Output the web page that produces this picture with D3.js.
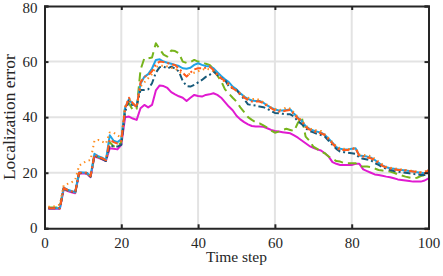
<!DOCTYPE html>
<html><head><meta charset="utf-8">
<script src="https://cdn.jsdelivr.net/npm/d3@7"></script>
<style>body{margin:0;background:#fff}svg{display:block}</style>
</head><body><svg id="c" width="443" height="276"></svg>
<script>
const steps = d3.range(1, 101);
const xTicks = [0, 20, 40, 60, 80, 100];
const yTicks = [0, 20, 40, 60, 80];
const xLabel = "Time step";
const yLabel = "Localization error";

const magenta = [7,7,7,7,14,13.4,13,12.6,19.6,19.8,19.6,18.4,25.8,25.4,24.8,24.2,28.8,28.6,28.4,30,
40,40.2,39.5,39,43.2,44.4,43.5,44.4,49.6,51.4,51.2,50.5,49,48.2,47.5,47,45.8,47,48,47.6,
47.4,48,48.2,48.6,48,47,45.4,43.8,42.5,40.5,39.2,38.2,37.4,36.8,36.6,36.6,36.5,36,35.4,35,
34.8,34.6,34.4,34.2,33.4,32.6,31.6,30.6,29.6,29,28.4,28,27,25.8,23.8,23.2,22.8,22.8,22.8,22.8,
23.2,23.2,21.2,20.6,20,19.4,19.2,18.9,18.6,18.4,18,17.6,17.4,17.2,17,16.8,16.8,16.8,17.2,18];

const green = [7.5,7.5,7.5,7.5,14.3,13.7,13.2,12.9,19.8,20,19.8,18.6,26.2,25.6,25,24.4,31,29.5,29.5,31,
44,45,42.5,43,57,61.2,61.2,61.5,66.6,64.5,62.5,61.8,64,63.8,63,60,59.5,59.8,60.6,60,
59.8,59.2,58.8,57.5,55,53,50,48.5,47,45.6,43.5,41.8,40,39,38.2,37.8,37,36.2,35.2,34.4,
34.8,35.4,35.8,35.4,35,38,40,33,31.5,29.4,28.6,27.6,27,25.8,25,24.2,24,23.5,23.4,23.4,
23.4,22.5,22.2,22.2,22,21.5,21,20.8,20.6,20.4,20,19.4,19,18.6,18.3,18,18.2,18.8,19.2,20];

const lightBlue = [7.2,7.2,7.2,7.2,14.6,13.9,13.4,13.1,20.2,20.1,20,18.9,26.8,26,25.4,24.6,33.5,31.5,31,32,
43.5,46.5,44.5,44,52,54.5,55.5,57.5,60.6,60.8,60,59.6,59.2,58.8,58.4,57.6,57.4,57.8,58.8,59.4,
58.8,58.4,58.2,57.6,56.2,54.8,53.6,52.6,51,50,48.6,47.4,46.6,46,45.8,45.8,45.2,44.2,43.4,42.8,
42.4,42.4,42.6,42.8,41.2,39.8,38.6,36.8,35.8,35.2,34.8,34.4,33.6,32.2,30.8,29.2,28.6,28.4,28.4,28.6,
28.8,26.2,26,25.8,25.4,24.6,23.6,22.6,22,21.6,21.4,21.2,21,20.8,20.6,20.4,20.2,20,19.8,20.8];

const teal = [7.2,7.2,7.2,7.2,14.4,13.7,13.2,12.8,19.8,19.9,19.8,18.6,26.3,25.6,25,24.2,30,29.4,29.4,30,
42,46,44,44,49.8,49.8,50,52.2,56,58,58.2,57.5,58.2,57.5,56.4,53,51.2,51,51.6,52.5,
53.4,54.5,55.2,56.4,55.2,54,53.4,51,50.4,49.8,48,46.5,44.6,44.4,44.2,43.8,43.6,43,42.2,41.5,
41.4,41.2,41,41,40.2,38.5,37.5,36,35,34.5,34,33.6,33,31.5,30,28.6,27.6,27.4,27.2,27,
26.8,25.5,25,24.8,24.5,23.5,22.8,22,21.4,21,20.6,20.4,20.2,20,19.8,19.6,19.4,19.2,19.2,20];

const orangeDot = [7.8,7.8,8,8.5,15.5,16,16.5,17.4,22.5,23.5,24.2,24.6,31.5,31.8,31.2,30.5,34.5,34.4,33.5,32.5,
44,46.5,45,44,51,52.5,54,55.5,58,58.5,58.5,58.2,57.8,57.5,56.5,55.5,55,55.8,56,56.5,
57,57.5,57.2,56.5,55,54,52.5,51.5,50.5,49.5,48.5,47.5,47,46.5,46.6,46.2,45.4,44.4,43.5,43,
42.5,42.8,43.5,43,41.6,40,38.8,37,36,35.5,35.2,35,33.8,32.4,31,29.5,28.8,28.6,28.4,28.6,
29,26.5,26.4,26.2,26,25,24,23,22.2,21.8,21.6,21.4,21.2,21,20.8,20.6,20.4,20.2,20.4,21];

const orangeRed = [7.2,7.2,7.2,7.2,14.5,13.8,13.3,13,20,20,20,18.8,26.5,25.8,25.2,24.5,32,31,30.5,31.5,
43,47,45,43.5,52.5,54.5,55,56.5,59,60,59.8,59.5,59,58.8,57.5,56,54.6,56,57.2,57.6,
57.6,57.8,58.2,57,55.5,54,53,52,50.4,49.5,48.2,47,46.2,45.6,45.6,45.6,45,44,43.2,42.4,
42,42,42.4,42.6,41,39.5,38.5,36.5,35.5,35,34.5,34.2,33.5,32,30.5,29,28.2,28.2,28.2,28.5,
28.8,26,25.8,25.5,25.2,24.5,23.5,22.5,21.8,21.5,21.2,21,21,20.8,20.6,20.4,20.2,20,19.8,21];

const series = [
  {v: magenta,   color: "#e01ad0", dash: null},
  {v: green,     color: "#77b41c", dash: "9,5"},
  {v: lightBlue, color: "#1ea3e6", dash: null},
  {v: teal,      color: "#175a7a", dash: "7,3,2,3"},
  {v: orangeDot, color: "#ff8c1e", dash: "1.5,3.5"},
  {v: orangeRed, color: "#ff5a1c", dash: "7,3,2,3"}
];

const svg = d3.select("#c");
const L = 44.5, R = 428.5, T = 6, B = 228.3;
const x = d3.scaleLinear().domain([0, 100]).range([L, R]);
const y = d3.scaleLinear().domain([0, 80]).range([B, T]);
const font = "'Liberation Serif','Times New Roman',serif";

// grid
svg.append("g").selectAll("line").data(xTicks.slice(1, -1)).join("line")
  .attr("x1", d => x(d)).attr("x2", d => x(d)).attr("y1", T).attr("y2", B)
  .attr("stroke", "#e3e3e3").attr("stroke-width", 2);
svg.append("g").selectAll("line").data(yTicks.slice(1, -1)).join("line")
  .attr("y1", d => y(d)).attr("y2", d => y(d)).attr("x1", L).attr("x2", R)
  .attr("stroke", "#e3e3e3").attr("stroke-width", 2);

// lines
const line = d3.line().x((d, i) => x(steps[i])).y(d => y(d));
series.forEach(s => {
  const p = svg.append("path").datum(s.v).attr("d", line)
    .attr("fill", "none").attr("stroke", s.color).attr("stroke-width", 2)
    .attr("stroke-linejoin", "round");
  if (s.dash) p.attr("stroke-dasharray", s.dash);
});

// axes
const ax = d3.axisBottom(x).tickValues(xTicks).tickSize(-4).tickPadding(9);
const ay = d3.axisLeft(y).tickValues(yTicks).tickSize(-4).tickPadding(7);
const gx = svg.append("g").attr("transform", `translate(0,${B})`).call(ax);
const gy = svg.append("g").attr("transform", `translate(${L},0)`).call(ay);
const gxt = svg.append("g").attr("transform", `translate(0,${T})`).call(d3.axisTop(x).tickValues(xTicks).tickSize(-4).tickFormat(""));
const gyr = svg.append("g").attr("transform", `translate(${R},0)`).call(d3.axisRight(y).tickValues(yTicks).tickSize(-4).tickFormat(""));
[gx, gy, gxt, gyr].forEach(g => {
  g.selectAll(".domain").attr("stroke", "#262626").attr("stroke-width", 2);
  g.selectAll(".tick line").attr("stroke", "#262626").attr("stroke-width", 2);
  g.selectAll("text").attr("font-family", font).attr("font-size", 15).attr("fill", "#262626");
});
gy.selectAll("text").attr("dy", d => d === 80 ? "0.45em" : "0.3em");

svg.append("text").attr("x", (L + R) / 2).attr("y", 262).attr("text-anchor", "middle")
  .attr("font-family", font).attr("font-size", 15.5).attr("fill", "#262626").text(xLabel);
svg.append("text").attr("transform", `translate(15,${(T + B) / 2}) rotate(-90)`).attr("text-anchor", "middle")
  .attr("font-family", font).attr("font-size", 17.5).attr("fill", "#262626").text(yLabel);
</script></body></html>
